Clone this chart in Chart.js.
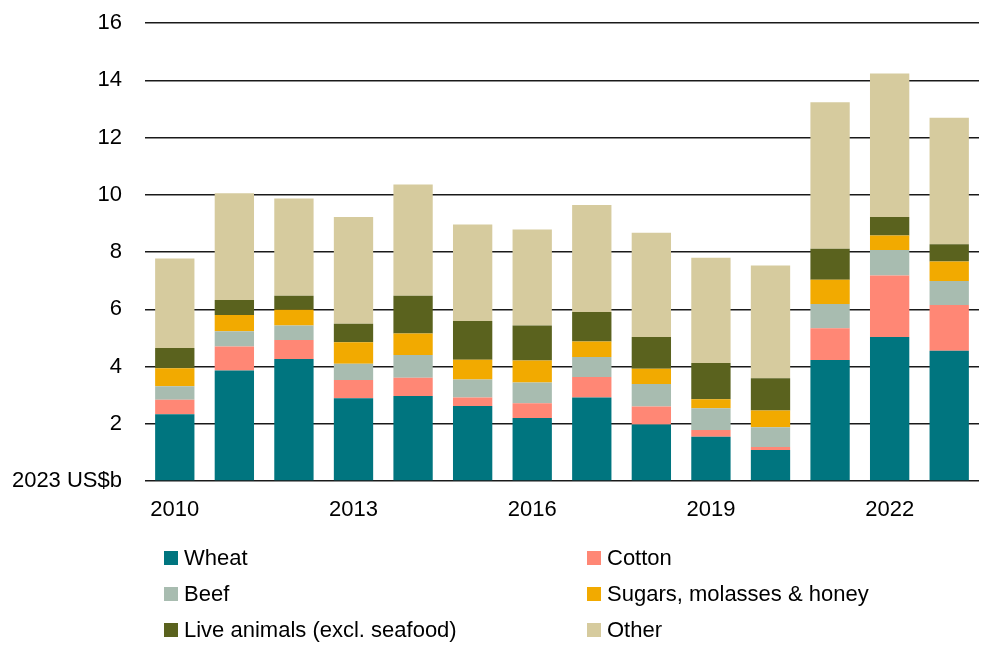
<!DOCTYPE html>
<html>
<head>
<meta charset="utf-8">
<script src="https://cdn.jsdelivr.net/npm/chart.js@4/dist/chart.umd.min.js"></script>
<style>
    body { margin: 0; background: #fff; font-family: "Liberation Sans", Arial, sans-serif; }
    #wrap { position: relative; width: 1000px; height: 667px; }
    #chart { position: absolute; left: 0; top: 0; }
    .legend-item { position: absolute; display: flex; align-items: center; font-size: 22px; color: #000; white-space: nowrap; }
    .legend-box { width: 14px; height: 14px; margin-right: 6px; }
</style>
</head>
<body>
<div id="wrap">
    <canvas id="chart" width="1000" height="667"></canvas>
    <div id="legend"></div>
</div>
<script>
// Years on the x axis
const years = ['2010', '2011', '2012', '2013', '2014', '2015', '2016',
               '2017', '2018', '2019', '2020', '2021', '2022', '2023'];

// Values in 2023 US$b
const wheat   = [2.33, 3.86, 4.26, 2.89, 2.97, 2.62, 2.20, 2.92, 1.97, 1.55, 1.08, 4.23, 5.03, 4.55];
const cotton  = [0.51, 0.84, 0.67, 0.64, 0.64, 0.30, 0.52, 0.71, 0.63, 0.23, 0.11, 1.11, 2.15, 1.60];
const beef    = [0.47, 0.53, 0.50, 0.57, 0.79, 0.63, 0.72, 0.70, 0.79, 0.76, 0.69, 0.84, 0.89, 0.84];
const sugars  = [0.63, 0.57, 0.55, 0.75, 0.75, 0.69, 0.77, 0.54, 0.53, 0.32, 0.58, 0.85, 0.51, 0.68];
const animals = [0.71, 0.52, 0.49, 0.64, 1.32, 1.35, 1.22, 1.03, 1.11, 1.26, 1.13, 1.08, 0.64, 0.60];
const other   = [3.12, 3.73, 3.40, 3.73, 3.89, 3.37, 3.36, 3.74, 3.64, 3.68, 3.94, 5.12, 5.02, 4.42];

// Y axis ticks
const yTicks = [0, 2, 4, 6, 8, 10, 12, 14, 16];
const yUnitLabel = '2023 US$b';

// Series definitions (bottom to top)
const series = [
    { label: 'Wheat', data: wheat, color: '#00757F' },
    { label: 'Cotton', data: cotton, color: '#FF8775' },
    { label: 'Beef', data: beef, color: '#A8BCB0' },
    { label: 'Sugars, molasses & honey', data: sugars, color: '#F2AA00' },
    { label: 'Live animals (excl. seafood)', data: animals, color: '#5A621E' },
    { label: 'Other', data: other, color: '#D6CB9E' }
];

const fontFamily = '"Liberation Sans", Arial, sans-serif';

// Build chart
const ctx = document.getElementById('chart').getContext('2d');
const chart = new Chart(ctx, {
    type: 'bar',
    data: {
        labels: years,
        datasets: series.map(s => ({
            label: s.label,
            data: s.data,
            backgroundColor: s.color,
            borderWidth: 0,
            categoryPercentage: 1,
            barPercentage: 0.66
        }))
    },
    options: {
        responsive: false,
        animation: false,
        layout: {
            padding: { left: 0, right: 21, top: 23, bottom: 0 }
        },
        scales: {
            x: {
                stacked: true,
                grid: { display: false, drawTicks: false },
                border: { display: false },
                ticks: {
                    autoSkip: false,
                    maxRotation: 0,
                    padding: 16,
                    color: '#000',
                    font: { family: fontFamily, size: 22 },
                    callback: function(value, index) {
                        return index % 3 === 0 ? years[index] : '';
                    }
                },
                afterFit: function(scale) {
                    scale.height = 186;
                }
            },
            y: {
                stacked: true,
                min: 0,
                max: 16,
                afterBuildTicks: function(scale) {
                    scale.ticks = yTicks.map(v => ({ value: v }));
                },
                grid: { color: '#1a1a1a', lineWidth: 1.5, drawTicks: false },
                border: { display: false },
                ticks: {
                    padding: 23,
                    color: '#000',
                    font: { family: fontFamily, size: 22 },
                    callback: function(value) {
                        return value === 0 ? yUnitLabel : value;
                    }
                },
                afterFit: function(scale) {
                    scale.width = 145;
                    scale.paddingTop = 0;
                    scale.paddingBottom = 0;
                }
            }
        },
        plugins: {
            legend: { display: false },
            tooltip: { enabled: false }
        }
    }
});

// Legend in two columns below the chart
const legend = document.getElementById('legend');
const legendCols = [164, 587];
const legendRows = [558, 594, 630];
series.forEach((s, i) => {
    const item = document.createElement('div');
    item.className = 'legend-item';
    item.style.left = legendCols[i % 2] + 'px';
    item.style.top = (legendRows[Math.floor(i / 2)] - 13) + 'px';
    item.style.height = '26px';
    item.innerHTML = `<span class="legend-box" style="background:${s.color}"></span><span>${s.label}</span>`;
    legend.appendChild(item);
});
</script>
</body>
</html>
